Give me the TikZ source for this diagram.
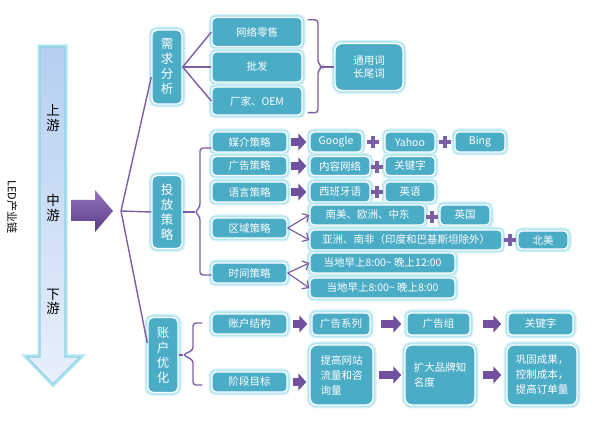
\documentclass[tikz,border=0pt]{standalone}
\usepackage{fontspec}
\setmainfont{Noto Sans CJK SC}
\usetikzlibrary{arrows.meta}
\usetikzlibrary{calc}
\definecolor{boxteal}{HTML}{4BACC6}
\definecolor{glowcyan}{HTML}{B4E6F1}
\definecolor{linepurple}{HTML}{7B5EA3}
\definecolor{fatpurple}{HTML}{7250A0}
\definecolor{arrtop}{HTML}{9376BE}
\definecolor{arrbot}{HTML}{5B3B88}
\definecolor{chaintop}{HTML}{B5CFF1}
\definecolor{chainbot}{HTML}{E8F0FB}
\definecolor{chainedge}{HTML}{8FD2E2}

\begin{document}
\begin{tikzpicture}
  [x=1pt,y=-1pt,
   box/.style={draw=white,line width=1.4pt,fill=boxteal,rounded corners=4pt,text=white,
     font=\fontsize{10.5}{13}\selectfont,inner sep=0pt,minimum width=#1,minimum height=20pt,
     preaction={draw=glowcyan!55,line width=7pt},preaction={draw=glowcyan,line width=4.5pt}},
   vbox/.style={box=30pt,rounded corners=5pt,font=\fontsize{12.5}{15}\selectfont,align=center},
   tall/.style={box=#1,minimum height=60pt,rounded corners=7pt,align=left,
     font=\fontsize{10.5}{15}\selectfont},
   conn/.style={draw=linepurple,line width=1.4pt},
   fork/.style={conn,line width=1.2pt,-{Straight Barb[length=5pt,width=10pt]}},
   fat/.style={draw=fatpurple,line width=8pt,-{Triangle[length=8pt,width=17pt]},
     shorten <=3pt,shorten >=3pt},
   plussign/.style={minimum size=11pt,inner sep=0pt},
   plusbar/.style={draw=linepurple,line width=3.5pt}]
  \useasboundingbox (0,0) rectangle (598,422);
  \draw[chainedge,line width=1.2pt,top color=chaintop,bottom color=chainbot,
    preaction={draw=glowcyan,line width=5pt}]
    (40,47) -- (65,47) -- (65,357) -- (80,357) -- (53,384) -- (27,357) -- (40,357) -- cycle;
  \node[font=\fontsize{13.5}{14.5}\selectfont,align=center] (up) at (53,118) {上\\游};
  \node[font=\fontsize{13.5}{14.5}\selectfont,align=center] (mid) at (53,208) {中\\游};
  \node[font=\fontsize{13.5}{14.5}\selectfont,align=center] (down) at (53,302) {下\\游};
  \node[rotate=-90,font=\fontsize{11}{12}\selectfont] (chain) at (12,207) {LED产业链};
  \shade[top color=arrtop,bottom color=arrbot]
    (71,200) -- (95,200) -- (95,190) -- (113,211) -- (95,232) -- (95,221) -- (71,221) -- cycle;
  \coordinate (split) at (121,211);

  \node[vbox,minimum height=74pt] (need) at (167,67) {需\\求\\分\\析};
  \node[vbox,minimum height=73pt] (put) at (167,212) {投\\放\\策\\略};
  \node[vbox,minimum height=75pt] (acct) at (163,355) {账\\户\\优\\化};
  \draw[conn] (split) -- ([yshift=-10pt]need.west);
  \draw[conn] (split) -- (put.west);
  \draw[conn] (split) -- ([yshift=12pt]acct.west);

  \node[box=90pt,minimum height=29pt] (retail) at (257,32) {网络零售};
  \node[box=90pt,minimum height=30pt] (wholesale) at (257,67) {批发};
  \node[box=90pt,minimum height=28pt] (oem) at (257,101) {厂家、OEM};
  \node[box=68pt,minimum height=47pt,rounded corners=7pt,align=center] (generic) at (369,67) {通用词\\长尾词};
  \foreach \b in {retail,wholesale,oem}
    \draw[conn] (need.east) -- (\b.west);
  \coordinate (needbr) at (322,67);
  \draw[conn,rounded corners=3pt] ($(retail.north east)+(5,3)$) -| ($(needbr)+(-4,-4)$)
    -- (needbr) -- ($(needbr)+(-4,4)$) |- ($(oem.south east)+(5,-3)$);
  \draw[conn] (needbr) -- (generic.west);

  \node[box=75pt] (media) at (249.5,142) {媒介策略};
  \node[box=75pt,minimum height=19pt] (adv) at (249.5,166) {广告策略};
  \node[box=75pt] (lang) at (249.5,192) {语言策略};
  \node[box=75pt] (region) at (249.5,228) {区域策略};
  \node[box=75pt] (time) at (249.5,273) {时间策略};
  \coordinate (putbr) at (195,212);
  \draw[conn,rounded corners=3pt] ($(media.west)+(0,6)$) -| ($(putbr)+(5,-5)$)
    -- (putbr) -- ($(putbr)+(5,5)$) |- ($(time.west)+(0,2)$);
  \draw[conn] (put.east) -- (putbr);

  \node[box=52pt] (google) at (336,142) {Google};
  \node[box=50pt] (yahoo) at (410,142) {Yahoo};
  \node[box=50pt] (bing) at (480,142) {Bing};
  \node[box=60pt,minimum height=19pt] (content) at (340,166) {内容网络};
  \node[box=50pt,minimum height=19pt] (keyword) at (410,166) {关键字};
  \node[box=60pt] (spanish) at (340,192) {西班牙语};
  \node[box=50pt] (english) at (410,192) {英语};
  \node[box=115pt] (samerica) at (367.5,215) {南美、欧洲、中东};
  \node[box=50pt] (uk) at (465,215) {英国};
  \node[box=192pt] (asia) at (406,240) {亚洲、南非（印度和巴基斯坦除外）};
  \node[box=50pt,minimum height=18pt] (namerica) at (543,240) {北美};
  \node[box=145pt] (early) at (382.5,263) {当地早上8:00\textasciitilde{} 晚上12:00};
  \node[box=145pt] (late) at (382.5,288) {当地早上8:00\textasciitilde{} 晚上8:00};
  \node[plussign] (p1) at (373,142) {};
  \node[plussign] (p2) at (445,142) {};
  \node[plussign] (p3) at (377,167) {};
  \node[plussign] (p4) at (377,192) {};
  \node[plussign] (p5) at (432,217) {};
  \node[plussign] (p6) at (510,240) {};
  \foreach \p in {p1,p2,p3,p4,p5,p6}
    \draw[plusbar] (\p.west) -- (\p.east) (\p.north) -- (\p.south);
  \draw[fat] (media.east) -- (google.west);
  \draw[fat] (adv.east) -- (content.west);
  \draw[fat] (lang.east) -- (spanish.west);
  \draw[fork] (region.east) -- (samerica.west);
  \draw[fork] (region.east) -- (asia.west);
  \draw[fork] (time.east) -- (early.west);
  \draw[fork] (time.east) -- (late.west);

  \node[box=75pt] (struct) at (249.5,324) {账户结构};
  \node[box=75pt] (goal) at (249.5,382) {阶段目标};
  \coordinate (acctbr) at (183,355);
  \draw[conn,rounded corners=3pt] ($(struct.west)+(-9,-1)$) -| ($(acctbr)+(10,-5)$)
    -- (acctbr) -- ($(acctbr)+(10,5)$) |- ($(goal.west)+(-9,3)$);
  \draw[conn] (acct.east) -- (acctbr);
  \node[box=58pt,minimum height=22pt] (series) at (341,324) {广告系列};
  \node[box=63pt,minimum height=22pt] (group) at (438.5,324) {广告组};
  \node[box=65pt,minimum height=22pt] (keyword2) at (540.5,324) {关键字};
  \node[tall=63pt] (traffic) at (341.5,375) {提高网站\\流量和咨\\询量};
  \node[tall=70pt] (brand) at (440,375) {扩大品牌知\\名度};
  \node[tall=70pt] (consol) at (542,375) {巩固成果，\\控制成本，\\提高订单量};
  \draw[fat,shorten <=5pt,shorten >=4pt] (struct.east) -- (series.west);
  \draw[fat,shorten <=10pt,shorten >=5pt] (series.east) -- (group.west);
  \draw[fat,shorten <=12pt,shorten >=6pt] (group.east) -- (keyword2.west);
  \draw[fat,shorten <=5pt,shorten >=3pt] (goal.east) -- (goal.east -| traffic.west);
  \draw[fat,shorten <=5pt,shorten >=3pt] (traffic.east) -- (brand.west);
  \draw[fat,shorten <=7pt,shorten >=5pt] (brand.east) -- (consol.west);
\end{tikzpicture}
\end{document}
